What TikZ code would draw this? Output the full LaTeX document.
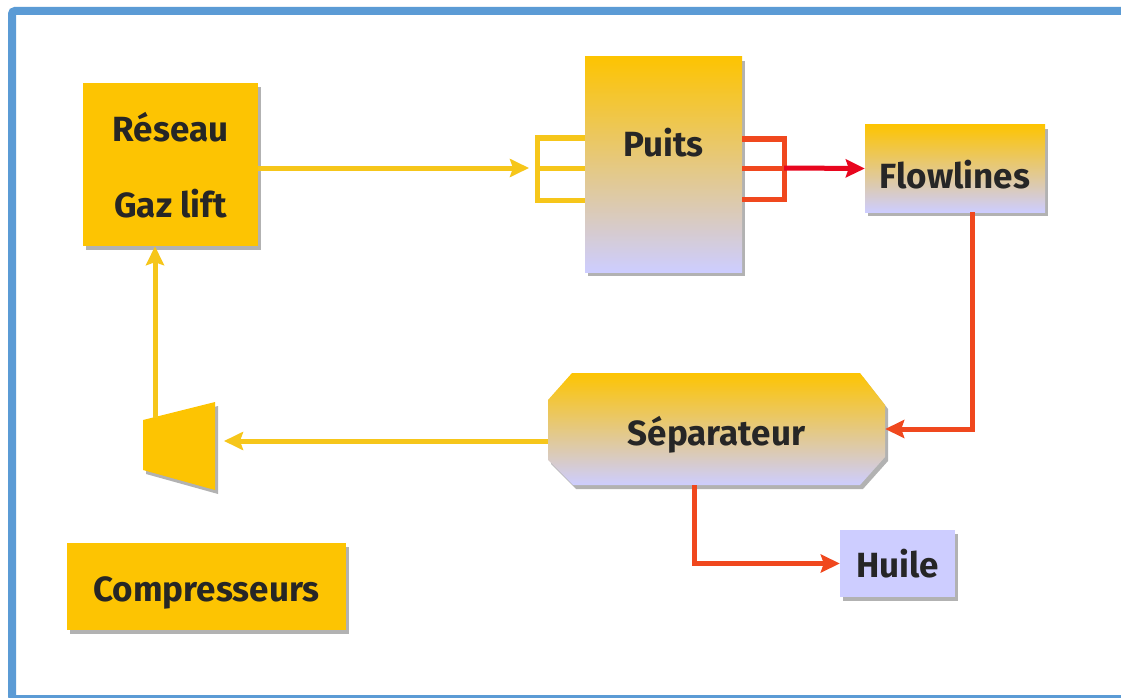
\documentclass[tikz,border=0pt]{standalone}
\usepackage{fontspec}
\setsansfont{Fira Sans}
\usetikzlibrary{shadows,arrows.meta}
\definecolor{gasyel}{RGB}{246,198,26}
\definecolor{boxyel}{RGB}{253,196,2}
\definecolor{lav}{RGB}{205,205,255}
\definecolor{oilred}{RGB}{240,72,30}
\definecolor{hotred}{RGB}{232,6,30}
\definecolor{framebl}{RGB}{91,155,213}
\begin{document}
\begin{tikzpicture}
[x=1pt,y=-1pt,
 lbl/.style={font=\sffamily\bfseries\fontsize{35}{44}\selectfont,text=black!85,inner sep=0pt,align=center},
 shd/.style={drop shadow={shadow xshift=3pt,shadow yshift=-4pt,fill=black,opacity=0.3}},
 ybox/.style={lbl,shd,fill=boxyel},
 gbox/.style={lbl,shd,top color=boxyel,middle color=lav!82!boxyel,bottom color=lav},
 gas/.style={draw=gasyel,line width=5pt},
 oil/.style={draw=oilred,line width=5pt},
 tip/.style={-{Stealth[length=19pt,width=18pt,inset=3pt]}}]
\useasboundingbox (0,0) rectangle (1121,698);
\clip (0,0) rectangle (1121,698);
\fill[white] (0,0) rectangle (1121,698);
\draw[framebl,line width=8pt,rounded corners=3pt] (12,11) rectangle (1140,699);
% boxes
\node[ybox,minimum width=175pt,minimum height=163pt,text depth=0pt] (reseau) at (170.5,164.5) {R\'eseau\\[32pt]Gaz lift};
\node[ybox,minimum width=279pt,minimum height=87pt,text height=30pt,text depth=0pt] (compr) at (206.5,586.5) {Compresseurs};
\node[gbox,minimum width=157pt,minimum height=215pt,text depth=44pt] (puits) at (663.5,164.5) {Puits};
\node[gbox,minimum width=180pt,minimum height=87pt,text height=40pt,text depth=0pt] (flow) at (955,168.5) {Flowlines};
\node[lbl,shd,fill=lav,minimum width=115pt,minimum height=67pt] (huile) at (897.5,563.5) {Huile};
\path[shd,top color=boxyel,middle color=lav!82!boxyel,bottom color=lav] (572,373) -- (860,373) -- (885,405) -- (885,457) -- (860,485) -- (573,485) -- (548,460) -- (548,400) -- cycle;
\node[lbl,minimum width=337pt,minimum height=112pt,text height=32pt,text depth=0pt] (sep) at (716.5,429) {S\'eparateur};
% compresseur
\fill[shd,boxyel] (143,420) -- (215,402) -- (215,490) -- (143,470) -- cycle;
\coordinate (compE) at (224,441); \coordinate (compN) at (155,418);
% gaz
\coordinate (ina) at (537,138); \coordinate (inm) at (537,168); \coordinate (inb) at (537,200);
\draw[gas] (ina -| puits.west) -- (ina) -- (inb) -- (inb -| puits.west); \draw[gas] (inm) -- (inm -| puits.west);
\draw[gas,tip] (reseau.east |- inm) -- ([xshift=-8pt]inm);
\draw[gas,tip] (sep.west |- compE) -- (compE);
\draw[gas,tip] (compN) -- (compN |- reseau.south);
% huile
\coordinate (outa) at (784,139); \coordinate (outm) at (784,168); \coordinate (outb) at (784,199);
\draw[oil] (outa -| puits.east) -- (outa) -- (outb) -- (outb -| puits.east); \draw[oil] (outm -| puits.east) -- (outm);
\draw[draw=hotred,line width=5pt,tip] (outm) -- (flow.west);
\draw[oil,tip] ([xshift=17pt]flow.south) |- (sep.east);
\draw[oil,tip] ([xshift=-22pt]sep.south) |- (huile.west);
\end{tikzpicture}
\end{document}
